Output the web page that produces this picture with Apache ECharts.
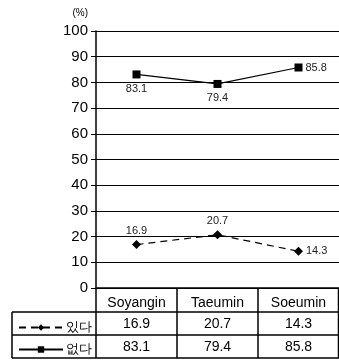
<!DOCTYPE html>
<html>
<head>
<meta charset="utf-8">
<script src="https://cdn.jsdelivr.net/npm/echarts@6/dist/echarts.min.js"></script>
<style>
  html, body { margin: 0; padding: 0; background: #fff; }
  #chart { width: 339px; height: 363px; }
</style>
</head>
<body>
<div id="chart"></div>
<script>
const categories = ['Soyangin', 'Taeumin', 'Soeumin']
const seriesNames = ['있다', '없다']
const haveValues = [16.9, 20.7, 14.3]
const noneValues = [83.1, 79.4, 85.8]

const font = '"Liberation Sans", Arial, sans-serif'
const chart = echarts.init(document.getElementById('chart'))

const gridTop = 31
const gridBottom = 75
const rowH = 23

// last point of each line has its label to the right
const withRightLabel = vals => vals.map((v, i) =>
  i === vals.length - 1 ? { value: v, label: { position: 'right', distance: 3 } } : v)

chart.setOption({
  animation: false,
  textStyle: { fontFamily: font, color: '#000' },
  grid: { left: 96, right: 0, top: gridTop, bottom: gridBottom },
  legend: {
    orient: 'vertical',
    left: 13,
    top: 316,
    itemGap: 9,
    itemWidth: 44,
    itemHeight: 8,
    textStyle: { fontSize: 13, color: '#000', padding: [0, 0, 0, -2] },
    data: seriesNames
  },
  xAxis: {
    type: 'category',
    data: categories,
    axisLine: { lineStyle: { color: '#000', width: 1.5 } },
    axisTick: { show: false },
    axisLabel: { fontSize: 14, color: '#000', margin: 8, fontFamily: font }
  },
  yAxis: {
    type: 'value',
    min: 0,
    max: 100,
    interval: 10,
    name: '(%)',
    nameGap: 13,
    nameTextStyle: { fontSize: 10, color: '#000', align: 'right', padding: [0, 8, 0, 0] },
    axisLine: { show: true, lineStyle: { color: '#000', width: 1.5 } },
    axisTick: { show: true, length: 5, inside: false, lineStyle: { color: '#000' } },
    axisLabel: { fontSize: 15, color: '#000', margin: 8, fontFamily: font },
    splitLine: { lineStyle: { color: '#000', width: 1.2 } }
  },
  series: [
    {
      name: seriesNames[0],
      type: 'line',
      data: withRightLabel(haveValues),
      symbol: 'diamond',
      symbolSize: 9,
      itemStyle: { color: '#000' },
      lineStyle: { color: '#000', width: 1.2, type: [7, 5] },
      label: {
        show: true,
        position: 'top',
        distance: 4,
        fontSize: 11,
        color: '#222',
        fontFamily: font
      }
    },
    {
      name: seriesNames[1],
      type: 'line',
      data: withRightLabel(noneValues),
      symbol: 'rect',
      symbolSize: 8,
      itemStyle: { color: '#000' },
      lineStyle: { color: '#000', width: 1.2 },
      label: {
        show: true,
        position: 'bottom',
        distance: 5,
        fontSize: 11,
        color: '#222',
        fontFamily: font
      }
    }
  ]
})

// table under the axis, built from the axis positions
const xs = categories.map((c, i) => chart.convertToPixel({ xAxisIndex: 0 }, i))
const band = xs[1] - xs[0]
const axisY = chart.convertToPixel({ yAxisIndex: 0 }, 0)
const leftX = xs[0] - band / 2
const rightX = 339
const tableLeft = 12
const row1 = axisY + rowH + 1
const row2 = row1 + rowH
const row3 = row2 + rowH

const lineStyle = { stroke: '#000', lineWidth: 1.5 }
const elements = []
const hline = (x1, x2, y) => elements.push({ type: 'line', shape: { x1, y1: y, x2, y2: y }, style: lineStyle, silent: true })
const vline = (x, y1, y2) => elements.push({ type: 'line', shape: { x1: x, y1, x2: x, y2 }, style: lineStyle, silent: true })

hline(tableLeft, rightX, row1)
hline(tableLeft, rightX, row2)
hline(tableLeft, rightX, row3)
vline(tableLeft, row1, row3)
vline(leftX, axisY, row3)
xs.forEach((x, i) => { if (i > 0) vline(x - band / 2, axisY, row3) })
vline(rightX - 0.5, axisY, row3)

;[haveValues, noneValues].forEach((vals, r) => {
  vals.forEach((v, i) => {
    elements.push({
      type: 'text',
      silent: true,
      style: {
        x: xs[i],
        y: (r === 0 ? row1 : row2) + rowH / 2 + 1,
        text: v.toFixed(1),
        align: 'center',
        verticalAlign: 'middle',
        fontSize: 14,
        fontFamily: font,
        fill: '#000'
      }
    })
  })
})

chart.setOption({ graphic: elements })
</script>
</body>
</html>
